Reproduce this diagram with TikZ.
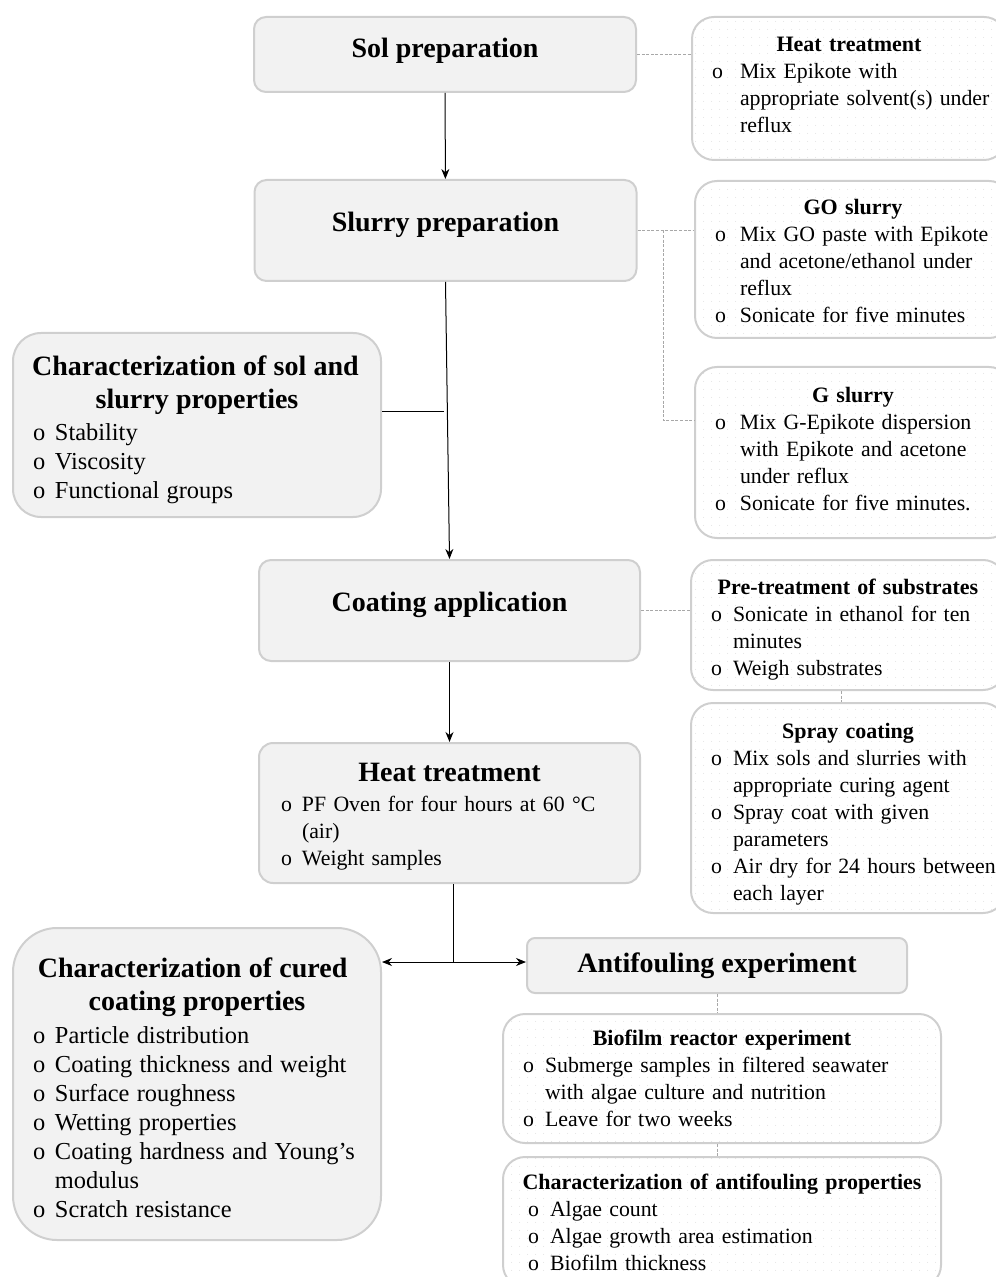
\documentclass[tikz,border=0pt]{standalone}
\usepackage{fontspec}
\setmainfont{Liberation Serif}
\usepackage{xcolor}
\usepackage{tikz}
\usetikzlibrary{positioning, arrows.meta, patterns.meta}

\definecolor{stepfill}{HTML}{F2F2F2}
\definecolor{edgegray}{HTML}{CFCFCF}
\definecolor{linkgray}{HTML}{A8A8A8}

\setlength{\parindent}{0pt}
\setlength{\parskip}{0pt}
\newcommand{\stepfont}{\fontsize{14}{16.5}\selectfont\bfseries}
\newcommand{\notehead}{\fontsize{11}{13.5}\selectfont\bfseries}
\newcommand{\notefont}{\fontsize{10.9}{13.5}\selectfont}
\newcommand{\charfont}{\fontsize{12.2}{14.5}\selectfont}
\newcommand{\bitem}[2][11pt]{\par\noindent\hangindent=#1\hangafter=1\makebox[#1][l]{o}#2\par}
% struts to nudge a text block down (lift) or up (sink)
\newcommand{\lift}[1]{\rule{0pt}{#1}}
\newcommand{\sink}[1]{\rule[-#1]{0pt}{0pt}}

\begin{document}
\begin{tikzpicture}[
    x=0.5pt, y=-0.5pt,
    >={Stealth[length=5pt, width=4pt]},
    font=\notefont,
    stepbox/.style={draw=edgegray, line width=1pt, fill=stepfill, rounded corners=6pt, minimum width=191pt, font=\stepfont},
    notebox/.style={draw=edgegray, line width=1pt, rounded corners=11pt, anchor=west, align=left, inner xsep=10pt, inner ysep=2pt,
        pattern={Dots[distance=4pt, radius=0.3pt]}, pattern color=black!10},
    charbox/.style={draw=edgegray, line width=1pt, fill=stepfill, align=left, inner xsep=8pt, inner ysep=2pt, text width=168pt, minimum width=184pt},
    arrow/.style={->, line width=0.5pt, draw=black},
    link/.style={line width=0.5pt, draw=linkgray, dash pattern=on 1.5pt off 0.8pt}
]
\useasboundingbox (0,0) rectangle (995,1277);

% Nodes
\node[stepbox, minimum height=37.5pt, text depth=7pt] (sol) at (445,54.5) {Sol preparation};
\node[stepbox, minimum height=50.5pt, text depth=9pt] (slurry) at (445.5,230.5) {Slurry preparation};
\node[stepbox, minimum height=50.5pt, text depth=9pt, minimum width=190.5pt] (coat) at (449.5,610.5) {Coating application};
\node[stepbox, rounded corners=7pt, minimum height=70pt, minimum width=190.5pt, align=left, inner xsep=11pt, inner ysep=2pt, text width=168.5pt, font=\notefont] (heat) at (449.5,813) {%
  {\centering\stepfont\lift{12.6pt}Heat treatment\par}\vskip1.5pt
  \bitem[10.5pt]{PF Oven for four hours at 60 °C\newline (air)}
  \bitem[10.5pt]{Weight samples}};
\node[stepbox, rounded corners=4pt, minimum height=27.5pt, minimum width=190pt] (anti) at (717,965.5) {Antifouling experiment};

\node[charbox, rounded corners=14pt, minimum height=92pt] (csol) at (197,425) {%
  {\centering\stepfont\lift{14.7pt}Characterization of sol and\newline slurry properties\par}\vskip1.5pt
  \leftskip=2pt\charfont
  \bitem{Stability}
  \bitem{Viscosity}
  \bitem{Functional groups}};
\node[charbox, rounded corners=22pt, minimum height=156pt] (ccur) at (197,1084) {%
  {\centering\stepfont\lift{13.7pt}Characterization of cured\newline coating properties\par}\vskip2pt
  \leftskip=2pt\charfont
  \bitem{Particle distribution}
  \bitem{Coating thickness and weight}
  \bitem{Surface roughness}
  \bitem{Wetting properties}
  \bitem{Coating hardness and Young’s\newline modulus}
  \bitem{Scratch resistance}};

\node[notebox, text width=137pt, minimum height=71.5pt] (hdet) at (691,88.5) {%
  {\centering\notehead Heat treatment\par}
  \bitem[14pt]{Mix Epikote with\newline \mbox{appropriate solvent(s) under}\newline reflux\sink{4pt}}};
\node[notebox, text width=138pt, minimum height=78.5pt] (go) at (694,259.5) {%
  {\centering\notehead\lift{9.5pt}GO slurry\par}
  \bitem[12.5pt]{\mbox{Mix GO paste with Epikote}\newline and acetone/ethanol under\newline reflux}
  \bitem[12.5pt]{Sonicate for five minutes}};
\node[notebox, text width=138pt, minimum height=85.5pt] (gs) at (694,452.5) {%
  {\centering\notehead G slurry\par}
  \bitem[12.5pt]{Mix G-Epikote dispersion\newline with Epikote and acetone\newline under reflux}
  \bitem[12.5pt]{Sonicate for five minutes.\sink{4pt}}};
\node[notebox, text width=137pt, minimum height=65pt] (pre) at (690,625) {%
  {\centering\notehead\lift{12.5pt}Pre-treatment of substrates\par}
  \bitem{Sonicate in ethanol for ten\newline minutes}
  \bitem{Weigh substrates}};
\node[notebox, text width=137pt, minimum height=105pt] (spr) at (690,808) {%
  {\centering\notehead\lift{13.5pt}Spray coating\par}
  \bitem{Mix sols and slurries with\newline appropriate curing agent}
  \bitem{Spray coat with given\newline parameters}
  \bitem{\mbox{Air dry for 24 hours between}\newline each layer}};
\node[notebox, text width=199pt, minimum height=64.5pt] (bio) at (502,1078.5) {%
  {\centering\notehead Biofilm reactor experiment\par}
  \bitem{Submerge samples in filtered seawater\newline with algae culture and nutrition}
  \bitem{Leave for two weeks}};
\node[notebox, text width=204pt, inner xsep=7.5pt, minimum height=65pt] (caf) at (502,1222) {%
  {\centering\notehead Characterization of antifouling properties\par}
  \leftskip=5pt
  \bitem{Algae count}
  \bitem{Algae growth area estimation}
  \bitem{Biofilm thickness}};

\coordinate (tap) at (444,412);
\coordinate (gjoin) at (663,230.5);
\coordinate (fork) at (453,962);

% Edges
\draw[arrow] (sol) -- (slurry);
\draw[arrow] (slurry.south) -- (coat.north);
\draw[arrow] (coat) -- (heat);
\draw[line width=0.5pt] (tap) -- (tap -| csol.east);
\draw[line width=0.5pt] (heat.south -| fork) -- (fork);
\draw[arrow] (fork) -- (fork -| ccur.east);
\draw[arrow] (fork) -- (fork -| anti.west);

\draw[link] (sol.east) -- (sol.east -| hdet.west);
\draw[link] (slurry.east) -- (slurry.east -| go.west);
\draw[link] (gjoin) |- ([yshift=16pt]gs.west);
\draw[link] (coat.east) -- (coat.east -| pre.west);
\draw[link] ([xshift=-3.5pt]pre.south) -- ([xshift=-3.5pt]pre.south |- spr.north);
\draw[link] (anti.south) -- (anti.south |- bio.north);
\draw[link] (anti.south |- bio.south) -- (anti.south |- caf.north);
\end{tikzpicture}
\end{document}
